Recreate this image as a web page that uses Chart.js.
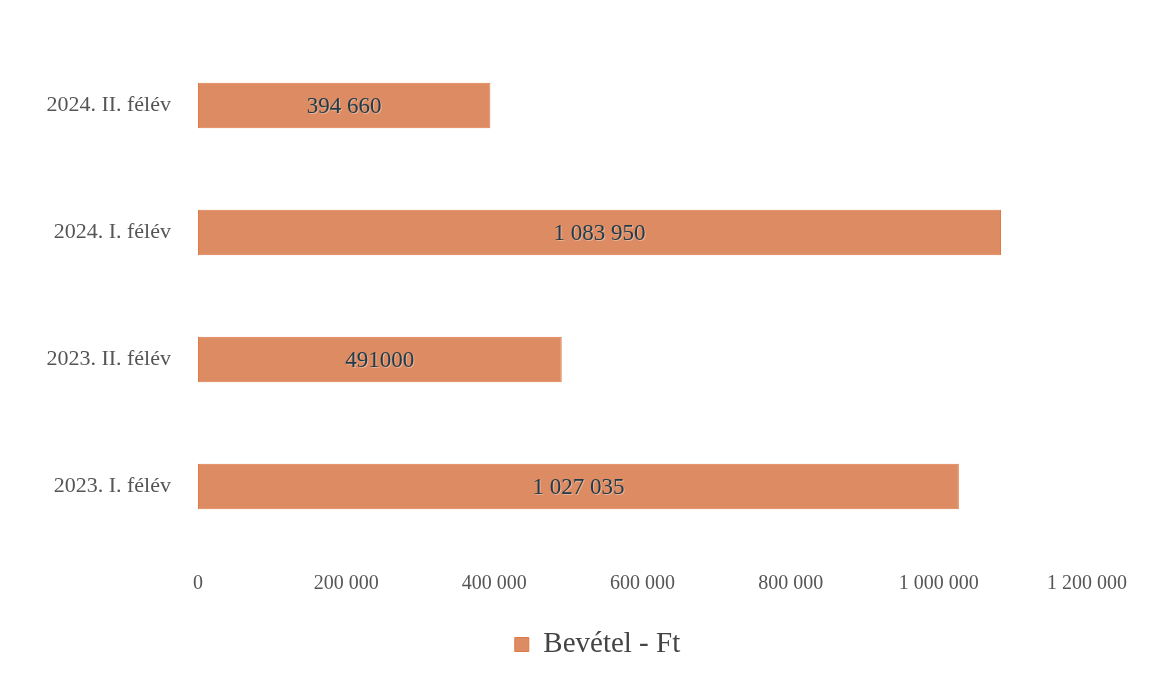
<!DOCTYPE html>
<html>
<head>
<meta charset="utf-8">
<script src="https://cdn.jsdelivr.net/npm/chart.js@4"></script>
<style>
  html, body { margin: 0; padding: 0; background: #fff; }
  #wrap { width: 1160px; height: 679px; }
</style>
</head>
<body>
<div id="wrap"><canvas id="chartz"></canvas></div>
<script>
// categories, top to bottom as printed
const periods = ['2024. II. félév', '2024. I. félév', '2023. II. félév', '2023. I. félév'];
// revenue per half-year, Ft
const revenue = [394660, 1083950, 491000, 1027035];
// labels written on the bars (as printed, one without separator)
const barTexts = ['394 660', '1 083 950', '491000', '1 027 035'];
// x axis ticks
const xTicks = [0, 200000, 400000, 600000, 800000, 1000000, 1200000];

const serif = '"Liberation Serif", "DejaVu Serif", serif';

function spaced(n) {
    return String(n).replace(/\B(?=(\d{3})+(?!\d))/g, ' ');
}

// draws the value in the middle of each bar
const barTextPlugin = {
    id: 'barText',
    afterLayout(chart) {
        // legend sits a bit right of centre in the original
        chart.legend.left += 54;
        chart.legend.right += 54;
    },
    afterDatasetsDraw(chart) {
        const ctx = chart.ctx;
        const meta = chart.getDatasetMeta(0);
        ctx.save();
        ctx.font = '23px ' + serif;
        ctx.textAlign = 'center';
        ctx.textBaseline = 'middle';
        meta.data.forEach((bar, i) => {
            const cx = (bar.base + bar.x) / 2;
            ctx.fillStyle = 'rgba(255,255,255,0.35)';
            ctx.fillText(barTexts[i], cx + 1, bar.y + 2);
            ctx.fillStyle = '#203c4a';
            ctx.fillText(barTexts[i], cx, bar.y + 1);
        });
        ctx.restore();
    }
};

var myCanvas = document.getElementById('chartz').getContext('2d');

var chart = {
    type: 'bar',
    data: {
        labels: periods,
        datasets: [{
            label: 'Bevétel - Ft',
            data: revenue,
            backgroundColor: '#dd8b62',
            borderColor: '#e07a45',
            borderWidth: 1,
            borderSkipped: false,
            barPercentage: 0.72,
            categoryPercentage: 0.5
        }]
    },
    options: {
        indexAxis: 'y',
        responsive: true,
        maintainAspectRatio: false,
        animation: false,
        layout: {
            padding: { top: 42, right: 73, bottom: 10, left: 0 }
        },
        plugins: {
            legend: {
                position: 'bottom',
                labels: {
                    color: '#444',
                    font: { family: serif, size: 29 },
                    boxWidth: 14,
                    boxHeight: 14,
                    padding: 12
                }
            },
            tooltip: { enabled: false }
        },
        scales: {
            x: {
                min: 0,
                max: 1200000,
                afterBuildTicks: (scale) => {
                    scale.ticks = xTicks.map(v => ({ value: v }));
                },
                grid: { display: false, drawTicks: false },
                border: { display: false },
                ticks: {
                    color: '#555',
                    padding: 22,
                    maxRotation: 0,
                    font: { family: serif, size: 20 },
                    callback: (v) => spaced(v)
                }
            },
            y: {
                afterFit: (scale) => { scale.width = 198; },
                grid: { display: false, drawTicks: false },
                border: { display: false },
                ticks: {
                    color: '#555',
                    padding: 27,
                    font: { family: serif, size: 22 }
                }
            }
        }
    },
    plugins: [barTextPlugin]
};
var statChart = new Chart(myCanvas, chart);
</script>
</body>
</html>
